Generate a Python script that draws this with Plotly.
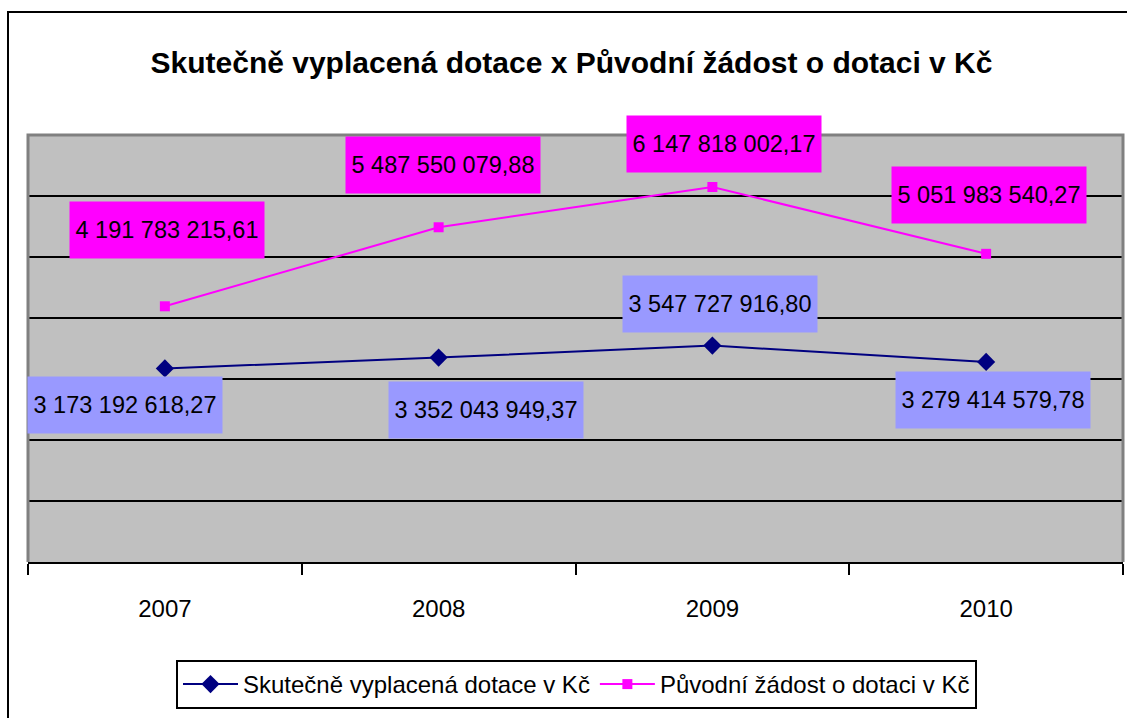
import plotly.graph_objects as go

# ---- data ----
years = ["2007", "2008", "2009", "2010"]
paid = [3173192618.27, 3352043949.37, 3547727916.80, 3279414579.78]
requested = [4191783215.61, 5487550079.88, 6147818002.17, 5051983540.27]
paid_name = "Skutečně vyplacená dotace v Kč"
requested_name = "Původní žádost o dotaci v Kč"
title_text = "Skutečně vyplacená dotace x Původní žádost o dotaci v Kč"

# label offsets (pixels) relative to points
paid_shift = [(-40, -37), (47, -52), (8, 42), (7, -38)]
req_shift = [(2, 76), (4, 62), (12, 43), (3, 59)]

FONT = "Liberation Sans, Arial, sans-serif"

def fmt(v):
    s = f"{v:,.2f}"
    ip, dp = s.split(".")
    return ip.replace(",", " ") + "," + dp

W, H = 1127, 718
L, R, T, B = 28, 4, 135, 156
pw, ph = W - L - R, H - T - B

def px2paper(x, y):
    return (x - L) / pw, (H - B - y) / ph

fig = go.Figure()
fig.add_trace(go.Scatter(
    x=years, y=paid, name=paid_name, mode="lines+markers",
    line=dict(color="#000080", width=2),
    marker=dict(symbol="diamond", size=14, color="#000080"),
))
fig.add_trace(go.Scatter(
    x=years, y=requested, name=requested_name, mode="lines+markers",
    line=dict(color="#FF00FF", width=2),
    marker=dict(symbol="square", size=10, color="#FF00FF"),
))

for series, shifts, color in ((paid, paid_shift, "#9999FF"), (requested, req_shift, "#FF00FF")):
    for i, (v, (dx, dy)) in enumerate(zip(series, shifts)):
        fig.add_annotation(x=i, y=v, xref="x", yref="y", text=fmt(v), showarrow=False,
                           xshift=dx, yshift=dy, bgcolor=color, width=188, height=50,
                           borderpad=3, font=dict(family=FONT, size=23.5, color="black"))

# borders
x0, y0 = px2paper(L, T)
x1, y1 = px2paper(W - R, H - B)
ox0, oy0 = px2paper(8, 12)
ox1, oy1 = px2paper(1135, 730)
fig.add_shape(type="path", xref="paper", yref="paper", layer="above",
              path=f"M {x0},{y1} L {x0},{y0} L {x1},{y0} L {x1},{y1}",
              line=dict(color="#808080", width=3))
fig.add_shape(type="rect", xref="paper", yref="paper", layer="above",
              x0=ox0, y0=oy1, x1=ox1, y1=oy0, line=dict(color="black", width=2))

fig.update_layout(
    width=W, height=H,
    margin=dict(l=L, r=R, t=T, b=B, autoexpand=False),
    paper_bgcolor="white", plot_bgcolor="#C0C0C0",
    title=dict(text=title_text, x=571.5 / W, xanchor="center", y=1 - 62 / H, yanchor="middle",
               font=dict(family=FONT, size=30, color="black", weight="bold")),
    font=dict(family=FONT, size=24, color="black"),
    showlegend=True,
    legend=dict(orientation="h", x=576.5 / W, xref="container", xanchor="center",
                y=(H - B - 660) / ph, yanchor="top", itemwidth=55,
                bordercolor="black", borderwidth=2, bgcolor="white",
                font=dict(family=FONT, size=24, color="black")),
)
fig.update_xaxes(type="category", showgrid=False, showline=True, linecolor="black", linewidth=2,
                 ticks="outside", tickson="boundaries", ticklen=11, tickwidth=2, tickcolor="black",
                 ticklabelstandoff=24,
                 tickfont=dict(family=FONT, size=24, color="black"), range=[-0.5, 3.5])
fig.update_yaxes(range=[0, 7e9], dtick=1e9, showgrid=True, gridcolor="black", gridwidth=2,
                 showticklabels=False, zeroline=False, showline=False, ticks="")

fig.write_html("out.html", config={"displayModeBar": False},
               post_script="document.body.style.margin='0';")
